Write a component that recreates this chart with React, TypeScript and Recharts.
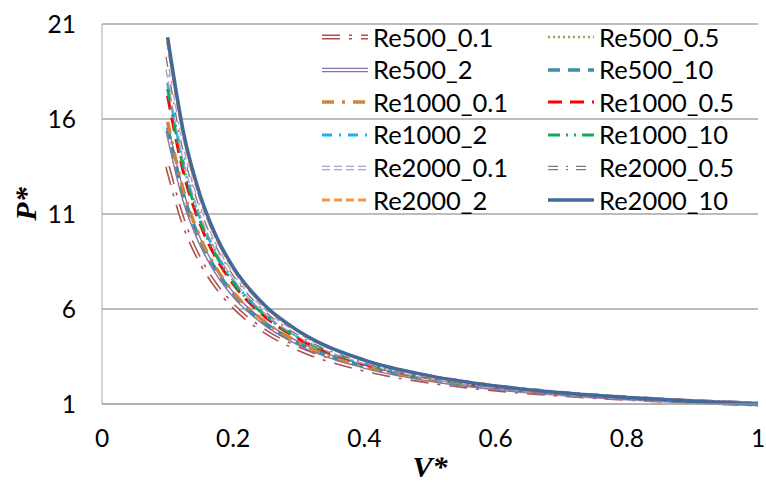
import { LineChart, Line, XAxis, YAxis, CartesianGrid, Label } from "recharts"

// V* sample points
const vStar = [0.1, 0.125, 0.15, 0.175, 0.2, 0.25, 0.3, 0.4, 0.5, 0.6, 0.7, 0.8, 0.9, 1]

// P* per case
const re500_01 = [13.49, 10.48, 8.53, 7.17, 6.16, 4.79, 3.9, 2.82, 2.19, 1.78, 1.5, 1.29, 1.13, 1.0]
const re500_05 = [15.14, 11.63, 9.38, 7.82, 6.68, 5.13, 4.14, 2.95, 2.27, 1.83, 1.52, 1.3, 1.13, 1.0]
const re500_2 = [15.4, 11.81, 9.51, 7.92, 6.76, 5.19, 4.18, 2.97, 2.28, 1.83, 1.53, 1.3, 1.13, 1.0]
const re500_10 = [15.56, 11.92, 9.6, 7.99, 6.81, 5.22, 4.2, 2.98, 2.28, 1.84, 1.53, 1.31, 1.13, 1.0]
const re1000_01 = [15.85, 12.13, 9.74, 8.1, 6.9, 5.28, 4.24, 3.0, 2.3, 1.85, 1.53, 1.31, 1.14, 1.0]
const re1000_05 = [17.22, 13.07, 10.43, 8.62, 7.31, 5.55, 4.43, 3.1, 2.36, 1.88, 1.55, 1.32, 1.14, 1.0]
const re1000_2 = [17.91, 13.54, 10.77, 8.88, 7.51, 5.68, 4.52, 3.15, 2.38, 1.9, 1.56, 1.32, 1.14, 1.0]
const re1000_10 = [17.58, 13.32, 10.61, 8.76, 7.42, 5.62, 4.48, 3.13, 2.37, 1.89, 1.56, 1.32, 1.14, 1.0]
const re2000_01 = [18.62, 14.02, 11.13, 9.15, 7.72, 5.82, 4.61, 3.2, 2.41, 1.91, 1.57, 1.33, 1.14, 1.0]
const re2000_05 = [19.28, 14.47, 11.45, 9.39, 7.91, 5.94, 4.7, 3.25, 2.44, 1.93, 1.58, 1.33, 1.15, 1.0]
const re2000_2 = [20.05, 14.99, 11.82, 9.67, 8.13, 6.08, 4.8, 3.3, 2.47, 1.95, 1.59, 1.34, 1.15, 1.0]
const re2000_10 = [20.3, 15.16, 11.95, 9.77, 8.2, 6.13, 4.83, 3.31, 2.48, 1.95, 1.59, 1.34, 1.15, 1.0]

const xTicks = [0, 0.2, 0.4, 0.6, 0.8, 1]
const yTicks = [1, 6, 11, 16, 21]

type Series = {
  name: string
  values: number[]
  color: string
  width: number
  dash?: string
  hollow?: boolean
}

const series: Series[] = [
  { name: "Re500_0.1", values: re500_01, color: "#B0504C", width: 5, dash: "18 9 3 9", hollow: true },
  { name: "Re500_0.5", values: re500_05, color: "#8FAA4E", width: 2.5, dash: "2 3" },
  { name: "Re500_2", values: re500_2, color: "#8A72AE", width: 4.5, hollow: true },
  { name: "Re500_10", values: re500_10, color: "#3E8DA6", width: 3.5, dash: "12 8" },
  { name: "Re1000_0.1", values: re1000_01, color: "#D0843C", width: 3.5, dash: "12 8 3 8" },
  { name: "Re1000_0.5", values: re1000_05, color: "#FF0000", width: 3, dash: "14 8" },
  { name: "Re1000_2", values: re1000_2, color: "#1AB2EE", width: 3, dash: "10 7 2 7" },
  { name: "Re1000_10", values: re1000_10, color: "#13A85A", width: 3, dash: "12 6 2 6 2 6" },
  { name: "Re2000_0.1", values: re2000_01, color: "#AC9BCB", width: 4.5, dash: "8 4", hollow: true },
  { name: "Re2000_0.5", values: re2000_05, color: "#7A7A7A", width: 4.5, dash: "10 8 2 8", hollow: true },
  { name: "Re2000_2", values: re2000_2, color: "#F79646", width: 3, dash: "8 4" },
  { name: "Re2000_10", values: re2000_10, color: "#41699C", width: 3.5 },
]

const data = vStar.map((v, i) => {
  const row: Record<string, number> = { v }
  series.forEach((s, k) => {
    row["s" + k] = s.values[i]
  })
  return row
})

const font = "Lato, 'Noto Sans', sans-serif"

function LegendSample({ s }: { s: Series }) {
  return (
    <svg width={46} height={12} style={{ marginRight: 5, flex: "none" }}>
      <line x1={0} y1={6} x2={46} y2={6} stroke={s.color} strokeWidth={s.width} strokeDasharray={s.dash} />
      {s.hollow && (
        <line x1={0} y1={6} x2={46} y2={6} stroke="#fff" strokeWidth={1.8} strokeDasharray={s.dash} />
      )}
    </svg>
  )
}

export default function App() {
  return (
    <div style={{ position: "relative", width: 766, height: 487, fontFamily: font, background: "#fff" }}>
      <style>{`body{margin:0}`}</style>
      <LineChart width={766} height={487} data={data} margin={{ top: 24, right: 8, bottom: 0, left: 0 }}>
        <CartesianGrid vertical={false} stroke="#A6A6A6" strokeWidth={1.3} />
        <XAxis
          dataKey="v"
          type="number"
          domain={[0, 1]}
          ticks={xTicks}
          height={83}
          stroke="#A6A6A6"
          tickLine={false}
          tickSize={0}
          tickMargin={26}
          tick={{ fill: "#000", fontSize: 24.5, fontFamily: font }}
        >
          <Label
            content={() => (
              <text x={430} y={477} textAnchor="middle" fontFamily="'Liberation Serif', serif" fontStyle="italic" fontWeight="bold" fontSize={30} fill="#000">
                V*
              </text>
            )}
          />
        </XAxis>
        <YAxis
          type="number"
          domain={[1, 21]}
          ticks={yTicks}
          width={102}
          stroke="#A6A6A6"
          tickLine={false}
          tickSize={0}
          tickMargin={26}
          tick={{ fill: "#000", fontSize: 24.5, fontFamily: font }}
        >
          <Label
            content={() => (
              <text x={36} y={204} transform="rotate(-90 36 204)" textAnchor="middle" fontFamily="'Liberation Serif', serif" fontStyle="italic" fontWeight="bold" fontSize={30} fill="#000">
                P*
              </text>
            )}
          />
        </YAxis>
        {series.flatMap((s, k) => {
          const lines = [
            <Line
              key={"l" + k}
              type="monotone"
              dataKey={"s" + k}
              name={s.name}
              stroke={s.color}
              strokeWidth={s.width}
              strokeDasharray={s.dash}
              dot={false}
              isAnimationActive={false}
            />,
          ]
          if (s.hollow) {
            lines.push(
              <Line
                key={"h" + k}
                type="monotone"
                dataKey={"s" + k}
                stroke="#fff"
                strokeWidth={1.8}
                strokeDasharray={s.dash}
                dot={false}
                legendType="none"
                isAnimationActive={false}
              />
            )
          }
          return lines
        })}
      </LineChart>
      <div
        style={{
          position: "absolute",
          left: 322,
          top: 21,
          display: "grid",
          gridTemplateColumns: "226px 226px",
          gridAutoRows: "32.6px",
        }}
      >
        {series.map((s) => (
          <div key={s.name} style={{ display: "flex", alignItems: "center", fontSize: 25.5, lineHeight: 1, color: "#000" }}>
            <LegendSample s={s} />
            <span>{s.name}</span>
          </div>
        ))}
      </div>
    </div>
  )
}
